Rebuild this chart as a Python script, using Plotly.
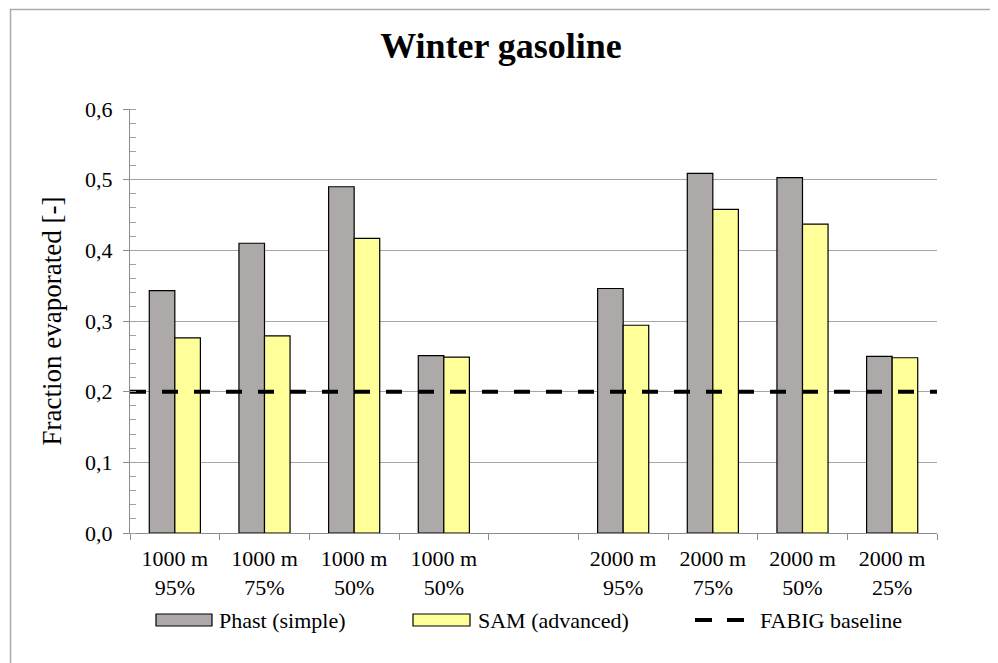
import plotly.graph_objects as go

# ---- data ----
slot_pos = [0, 1, 2, 3, 5, 6, 7, 8]
tick_labels = ["1000 m<br>95%", "1000 m<br>75%", "1000 m<br>50%", "1000 m<br>50%",
               "2000 m<br>95%", "2000 m<br>75%", "2000 m<br>50%", "2000 m<br>25%"]
phast = [0.343, 0.410, 0.490, 0.251, 0.346, 0.509, 0.503, 0.250]
sam = [0.276, 0.279, 0.417, 0.249, 0.294, 0.458, 0.437, 0.248]
baseline = 0.2
x_edges = [-0.5, 8.5]
slot_bounds = [-0.5, 0.5, 1.5, 2.5, 3.5, 4.5, 5.5, 6.5, 7.5, 8.5]

FONT = "Liberation Serif"
GRAY = "#ADA9A9"
YELLOW = "#FFFF99"
OFF = 8  # browser body margin

fig = go.Figure()
fig.add_trace(go.Bar(x=slot_pos, y=phast, name="Phast (simple)", marker=dict(color=GRAY, line=dict(color="black", width=1.2))))
fig.add_trace(go.Bar(x=slot_pos, y=sam, name="SAM (advanced)", marker=dict(color=YELLOW, line=dict(color="black", width=1.2))))
fig.add_trace(go.Scatter(x=x_edges, y=[baseline, baseline], mode="lines", name="FABIG baseline",
                         line=dict(color="black", width=4, dash="16px,16px")))

fig.update_layout(
    width=998, height=663,
    margin=dict(l=130 - OFF, r=61 + OFF, t=109 - OFF, b=130 + OFF),
    paper_bgcolor="white", plot_bgcolor="white",
    separators=",.",
    showlegend=False,
    barmode="group", bargap=0.43, bargroupgap=0,
    font=dict(family=FONT, color="black", size=20),
    title=dict(text="<b>Winter gasoline</b>", x=(501 - OFF) / 998, xref="container", xanchor="center",
               y=1 - (45 - OFF) / 663, yref="container", yanchor="middle",
               font=dict(family=FONT, size=36, color="black")),
)

fig.update_xaxes(
    range=x_edges, tickmode="array", tickvals=slot_pos, ticktext=tick_labels,
    ticks="", showgrid=False, zeroline=False,
    showline=True, linecolor="#8C8C8C", linewidth=1,
    tickfont=dict(family=FONT, size=22, color="black"),
    ticklabelstandoff=6,
    minor=dict(tickmode="array", tickvals=slot_bounds, ticks="outside", ticklen=6,
               tickcolor="#8C8C8C", showgrid=False),
)
fig.update_yaxes(
    range=[0, 0.6], dtick=0.1, tickformat=".1f",
    ticks="outside", ticklen=6, tickcolor="#8C8C8C",
    showgrid=True, gridcolor="#A6A6A6", gridwidth=1, zeroline=False,
    showline=True, linecolor="#8C8C8C", linewidth=1,
    tickfont=dict(family=FONT, size=22, color="black"),
    ticklabelstandoff=6,
    minor=dict(dtick=0.02, ticks="inside", ticklen=6, tickcolor="#A0A0A0", showgrid=False),
    title=dict(text="Fraction evaporated [-]", font=dict(family=FONT, size=27, color="black"), standoff=15),
)

# custom legend / frame (positions in screen pixels, converted to paper coords)
def px_x(p):
    return (p - 130) / 807.0

def px_y(p):
    return (533 - p) / 424.0

# outer frame
fig.add_shape(type="rect", xref="paper", yref="paper", x0=px_x(10.5), x1=px_x(991.5), y0=px_y(700), y1=px_y(9.5),
              line=dict(color="#AAAAAA", width=1.5), fillcolor="rgba(0,0,0,0)", layer="below")

leg_y = 620
fig.add_shape(type="rect", xref="paper", yref="paper", x0=px_x(156), x1=px_x(212), y0=px_y(626), y1=px_y(614),
              fillcolor=GRAY, line=dict(color="black", width=1.2))
fig.add_shape(type="rect", xref="paper", yref="paper", x0=px_x(413), x1=px_x(470), y0=px_y(626), y1=px_y(614),
              fillcolor=YELLOW, line=dict(color="black", width=1.2))
fig.add_shape(type="line", xref="paper", yref="paper", x0=px_x(695), x1=px_x(744), y0=px_y(leg_y), y1=px_y(leg_y),
              line=dict(color="black", width=4, dash="17px,15px"))
for txt, xpx in [("Phast (simple)", 217), ("SAM (advanced)", 476), ("FABIG baseline", 758)]:
    fig.add_annotation(text=txt, xref="paper", yref="paper", x=px_x(xpx), y=px_y(leg_y),
                       xanchor="left", yanchor="middle", showarrow=False,
                       font=dict(family=FONT, size=22, color="black"))

fig.write_html("out.html")
